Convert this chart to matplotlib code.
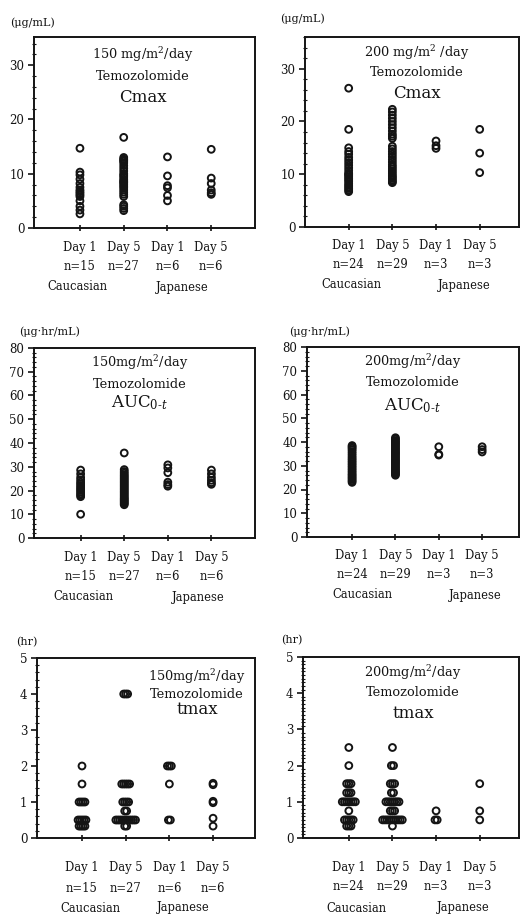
import numpy as np
import matplotlib
matplotlib.use("Agg")
import matplotlib.pyplot as plt
from matplotlib.ticker import MultipleLocator

plt.rcParams['font.family'] = ['DejaVu Serif']
plt.rcParams['mathtext.fontset'] = 'dejavuserif'

# group labels on the x axis
days = ["Day 1", "Day 5", "Day 1", "Day 5"]
groups = ["Caucasian", "Japanese"]
n_150 = [15, 27, 6, 6]
n_200 = [24, 29, 3, 3]

# Cmax (ug/mL), 150 mg/m2/day
cmax150_cau_d1 = [14.7, 10.3, 9.8, 9.0, 8.2, 7.5, 7.0, 6.7, 6.4, 6.1, 5.8, 5.0, 4.0, 3.3, 2.6]
cmax150_cau_d5 = [16.7, 13.0, 12.7, 12.5, 12.3, 12.0, 11.5, 11.0, 10.5, 10.0, 9.7, 9.4, 9.0, 8.7,
                  8.5, 8.3, 8.0, 7.7, 7.4, 7.0, 6.6, 6.2, 5.8, 4.3, 4.0, 3.6, 3.2]
cmax150_jpn_d1 = [13.1, 9.6, 7.8, 7.4, 6.0, 5.0]
cmax150_jpn_d5 = [14.5, 9.2, 8.2, 7.0, 6.5, 6.2]

# Cmax (ug/mL), 200 mg/m2/day
cmax200_cau_d1 = [26.3, 18.5, 15.0, 14.3, 13.8, 13.2, 12.7, 12.2, 11.7, 11.2, 10.7, 10.2, 10.0,
                  9.8, 9.5, 9.2, 8.9, 8.6, 8.2, 7.9, 7.6, 7.3, 7.0, 6.7]
cmax200_cau_d5 = [22.3, 21.8, 21.2, 20.6, 20.0, 19.4, 18.8, 18.2, 17.6, 17.2, 16.8, 15.3, 14.8,
                  14.3, 13.8, 13.3, 12.8, 12.3, 11.8, 11.4, 11.0, 10.6, 10.2, 9.8, 9.5, 9.2,
                  8.9, 8.6, 8.4]
cmax200_jpn_d1 = [16.3, 15.4, 14.9]
cmax200_jpn_d5 = [18.5, 14.0, 10.3]

# AUC (ug.hr/mL), 150 mg/m2/day
auc150_cau_d1 = [28.6, 27.0, 25.5, 24.5, 23.5, 22.8, 22.0, 21.3, 20.6, 20.0, 19.3, 18.6, 18.0,
                 17.4, 10.0]
auc150_cau_d5 = [35.8, 28.8, 28.0, 27.3, 26.6, 26.0, 25.4, 24.8, 24.2, 23.6, 23.0, 22.4, 21.8,
                 21.2, 20.6, 20.0, 19.4, 18.8, 18.2, 17.6, 17.0, 16.5, 16.0, 15.5, 15.0, 14.5, 14.0]
auc150_jpn_d1 = [30.8, 29.5, 27.5, 23.5, 22.5, 21.8]
auc150_jpn_d5 = [28.6, 27.0, 25.5, 24.3, 23.3, 22.6]

# AUC (ug.hr/mL), 200 mg/m2/day
auc200_cau_d1 = [38.5, 38.0, 37.4, 36.8, 36.0, 35.2, 34.4, 33.6, 32.9, 32.2, 31.5, 30.8, 30.1,
                 29.4, 28.7, 28.0, 27.3, 26.6, 26.0, 25.4, 24.8, 24.2, 23.6, 23.0]
auc200_cau_d5 = [41.8, 41.2, 40.6, 40.0, 39.5, 39.0, 38.4, 37.8, 37.2, 36.6, 36.0, 35.5, 35.0,
                 34.4, 33.8, 33.2, 32.6, 32.0, 31.5, 31.0, 30.4, 29.8, 29.2, 28.6, 28.0, 27.5,
                 27.0, 26.5, 26.0]
auc200_jpn_d1 = [38.0, 34.8, 34.5]
auc200_jpn_d5 = [38.0, 36.8, 35.8]

# tmax (hr), 150 mg/m2/day
tmax150_cau_d1 = [2.0, 1.5, 1.0, 1.0, 1.0, 1.0, 0.5, 0.5, 0.5, 0.5, 0.5, 0.33, 0.33, 0.33, 0.33]
tmax150_cau_d5 = [4.0, 4.0, 4.0, 1.5, 1.5, 1.5, 1.5, 1.5, 1.0, 1.0, 1.0, 1.0, 0.75, 0.75,
                  0.5, 0.5, 0.5, 0.5, 0.5, 0.5, 0.5, 0.5, 0.5, 0.5, 0.5, 0.33, 0.33]
tmax150_jpn_d1 = [2.0, 2.0, 2.0, 1.5, 0.5, 0.5]
tmax150_jpn_d5 = [1.52, 1.48, 1.02, 0.98, 0.55, 0.33]

# tmax (hr), 200 mg/m2/day
tmax200_cau_d1 = [2.5, 2.0, 1.5, 1.5, 1.5, 1.25, 1.25, 1.25, 1.0, 1.0, 1.0, 1.0, 1.0, 1.0, 1.0,
                  0.75, 0.5, 0.5, 0.5, 0.5, 0.5, 0.33, 0.33, 0.33]
tmax200_cau_d5 = [2.5, 2.0, 2.0, 1.5, 1.5, 1.5, 1.25, 1.25, 1.0, 1.0, 1.0, 1.0, 1.0, 1.0, 1.0,
                  0.75, 0.75, 0.75, 0.5, 0.5, 0.5, 0.5, 0.5, 0.5, 0.5, 0.5, 0.5, 0.5, 0.33]
tmax200_jpn_d1 = [0.75, 0.5, 0.5]
tmax200_jpn_d5 = [1.5, 0.75, 0.5]

W, H = 521, 915
INK = '#141414'
fig = plt.figure(figsize=(W / 100, H / 100), dpi=100)


def rect(l, t, r, b):
    return [l / W, 1 - b / H, (r - l) / W, (b - t) / H]


def fig_text(x, y, s, **kw):
    fig.text(x / W, 1 - y / H, s, color=INK, **kw)


def spread(vals, step):
    # spread tied values sideways so they do not sit on top of each other
    vals = np.asarray(vals, dtype=float)
    offs = np.zeros(len(vals))
    if step == 0:
        return offs
    for v in np.unique(vals):
        idx = np.where(vals == v)[0]
        k = len(idx)
        offs[idx] = (np.arange(k) - (k - 1) / 2) * step
    return offs


panels = [
    dict(rect=(34, 37, 255, 228), xlim=(-0.05, 5.0), ylim=(0, 35.2), major=10, minor=2,
         data=[cmax150_cau_d1, cmax150_cau_d5, cmax150_jpn_d1, cmax150_jpn_d5], n=n_150,
         step=0, title=["150 mg/m$^2$/day", "Temozolomide", "Cmax"], tx=143, ty=[55, 76, 97],
         unit="(\u03bcg/mL)", ux=10, uy=23, off=[19, 39, 59], gx=(0.95, 3.35)),
    dict(rect=(305, 37, 519, 227), xlim=(0.0, 4.9), ylim=(0, 36), major=10, minor=2,
         data=[cmax200_cau_d1, cmax200_cau_d5, cmax200_jpn_d1, cmax200_jpn_d5], n=n_200,
         step=0, title=["200 mg/m$^2$ /day", "Temozolomide", "Cmax"], tx=417, ty=[53, 72, 93],
         unit="(\u03bcg/mL)", ux=280, uy=19, off=[18, 38, 58], gx=(1.07, 3.65)),
    dict(rect=(34, 348, 255, 538), xlim=(-0.07, 5.0), ylim=(0, 80), major=10, minor=2,
         data=[auc150_cau_d1, auc150_cau_d5, auc150_jpn_d1, auc150_jpn_d5], n=n_150,
         step=0, title=["150mg/m$^2$/day", "Temozolomide", "AUC$_{0\u2010t}$"], tx=140,
         ty=[363, 384, 403], unit="(\u03bcg\u00b7hr/mL)", ux=19, uy=332, off=[19, 39, 59],
         gx=(1.07, 3.7)),
    dict(rect=(307, 347, 519, 537), xlim=(-0.04, 4.85), ylim=(0, 80), major=10, minor=2,
         data=[auc200_cau_d1, auc200_cau_d5, auc200_jpn_d1, auc200_jpn_d5], n=n_200,
         step=0, title=["200mg/m$^2$/day", "Temozolomide", "AUC$_{0\u2010t}$"], tx=413,
         ty=[362, 382, 406], unit="(\u03bcg\u00b7hr/mL)", ux=289, uy=332, off=[18, 38, 58],
         gx=(1.25, 3.85)),
    dict(rect=(37, 658, 255, 838), xlim=(-0.03, 4.96), ylim=(0, 5), major=1, minor=0.2,
         data=[tmax150_cau_d1, tmax150_cau_d5, tmax150_jpn_d1, tmax150_jpn_d5], n=n_150,
         step=0.045, title=["150mg/m$^2$/day", "Temozolomide", "tmax"], tx=197,
         ty=[677, 695, 710], unit="(hr)", ux=16, uy=642, off=[30, 50, 70], gx=(1.2, 3.31)),
    dict(rect=(303, 657, 519, 838), xlim=(-0.05, 4.9), ylim=(0, 5), major=1, minor=0.1,
         data=[tmax200_cau_d1, tmax200_cau_d5, tmax200_jpn_d1, tmax200_jpn_d5], n=n_200,
         step=0.05, title=["200mg/m$^2$/day", "Temozolomide", "tmax"], tx=413,
         ty=[673, 692, 713], unit="(hr)", ux=281, uy=640, off=[29, 49, 70], gx=(1.18, 3.62)),
]

positions = [1, 2, 3, 4]

for p in panels:
    ax = fig.add_axes(rect(*p['rect']))
    for pos, vals in zip(positions, p['data']):
        xs = pos + spread(vals, p['step'])
        ax.scatter(xs, vals, s=24, facecolors='none', edgecolors=INK, linewidths=1.4,
                   zorder=3, clip_on=False)
    ax.set_xlim(*p['xlim'])
    ax.set_ylim(*p['ylim'])
    ax.yaxis.set_major_locator(MultipleLocator(p['major']))
    ax.yaxis.set_minor_locator(MultipleLocator(p['minor']))
    ax.set_xticks(positions)
    ax.set_xticklabels([])
    ax.tick_params(axis='y', which='major', direction='out', length=4, width=1.2,
                   labelsize=8.5, colors=INK, pad=3)
    ax.tick_params(axis='y', which='minor', direction='inout', length=3, width=0.8,
                   colors=INK)
    ax.tick_params(axis='x', direction='inout', length=4, width=1.2, colors=INK)
    for sp in ax.spines.values():
        sp.set_linewidth(1.4)
        sp.set_color(INK)

    # x labels: day, n and population
    for pos, day, n in zip(positions, days, p['n']):
        ax.annotate(day, xy=(pos, 0), xycoords=('data', 'axes fraction'),
                    xytext=(0, -p['off'][0] * 0.72), textcoords='offset points',
                    ha='center', va='center', fontsize=8.3, color=INK, annotation_clip=False)
        ax.annotate(f"n={n}", xy=(pos, 0), xycoords=('data', 'axes fraction'),
                    xytext=(0, -p['off'][1] * 0.72), textcoords='offset points',
                    ha='center', va='center', fontsize=8.3, color=INK, annotation_clip=False)
    for gxp, g in zip(p['gx'], groups):
        ax.annotate(g, xy=(gxp, 0), xycoords=('data', 'axes fraction'),
                    xytext=(0, -p['off'][2] * 0.72), textcoords='offset points',
                    ha='center', va='center', fontsize=8.3, color=INK, annotation_clip=False)

    # title block inside the panel
    sizes = [9.3, 9.3, 12]
    for line, yy, fs in zip(p['title'], p['ty'], sizes):
        fig_text(p['tx'], yy, line, ha='center', va='center', fontsize=fs)
    fig_text(p['ux'], p['uy'], p['unit'], ha='left', va='center', fontsize=8)

fig.savefig("out.png", dpi=100, facecolor='white')
